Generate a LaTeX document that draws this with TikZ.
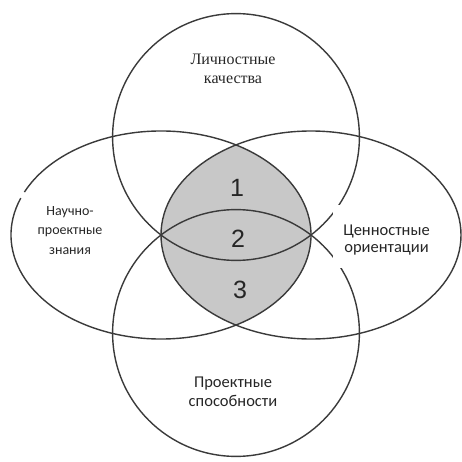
\documentclass[tikz,border=0pt]{standalone}
\usepackage{fontspec}
\setmainfont{Carlito}
\newfontfamily\serifcyr{Liberation Serif}
\newfontfamily\digitfont{Liberation Sans}
\usetikzlibrary{positioning,calc}
\definecolor{RingGray}{HTML}{3A3A3A}
\definecolor{CoreGray}{HTML}{C8C8C8}
\definecolor{LabelInk}{HTML}{262626}

\begin{document}
\begin{tikzpicture}[
    x=1pt, y=-1pt,
    ring/.style={draw=RingGray,line width=1.4pt},
    lbl/.style={align=center,text=LabelInk,inner sep=0pt,font=\fontsize{16.5}{19}\selectfont},
    num/.style={text=LabelInk,inner sep=0pt,font=\digitfont\fontsize{25}{25}\selectfont}
  ]
  \useasboundingbox (0,0) rectangle (461,462);
  \coordinate (top) at (236,137);
  \coordinate (bot) at (236,333);
  \coordinate (lft) at (161,235);
  \coordinate (rgt) at (311,235);
  \begin{scope}
    \clip (lft) ellipse [x radius=150,y radius=104];
    \fill[CoreGray] (rgt) ellipse [x radius=150,y radius=104];
  \end{scope}
  \draw[ring] (top) circle [radius=123.4];
  \draw[ring] (bot) circle [radius=123.4];
  \draw[ring] ($(lft)+(204.4:150 and 104)$) arc [start angle=204.4,end angle=560.8,x radius=150,y radius=104];
  \draw[ring] (rgt) ellipse [x radius=150,y radius=104];
  \node[lbl,font=\serifcyr\fontsize{16}{19}\selectfont] (personal) at (233,68.5) {Личностные\\качества};
  \node[lbl,font=\fontsize{14}{19.5}\selectfont] (knowledge) at (70,230.5) {Научно-\\проектные\\знания};
  \node[lbl,font=\fontsize{16.5}{17.3}\selectfont,fill=white,minimum width=107pt,minimum height=63pt] (values) at (386.5,236.5) {\rule{0pt}{18pt}Ценностные\\ориентации};
  \node[lbl] (abilities) at (233,392) {Проектные\\способности};
  \node[num] (one) at (237,188) {1};
  \node[num] (two) at (238,239) {2};
  \node[num] (three) at (240,290) {3};
\end{tikzpicture}
\end{document}
